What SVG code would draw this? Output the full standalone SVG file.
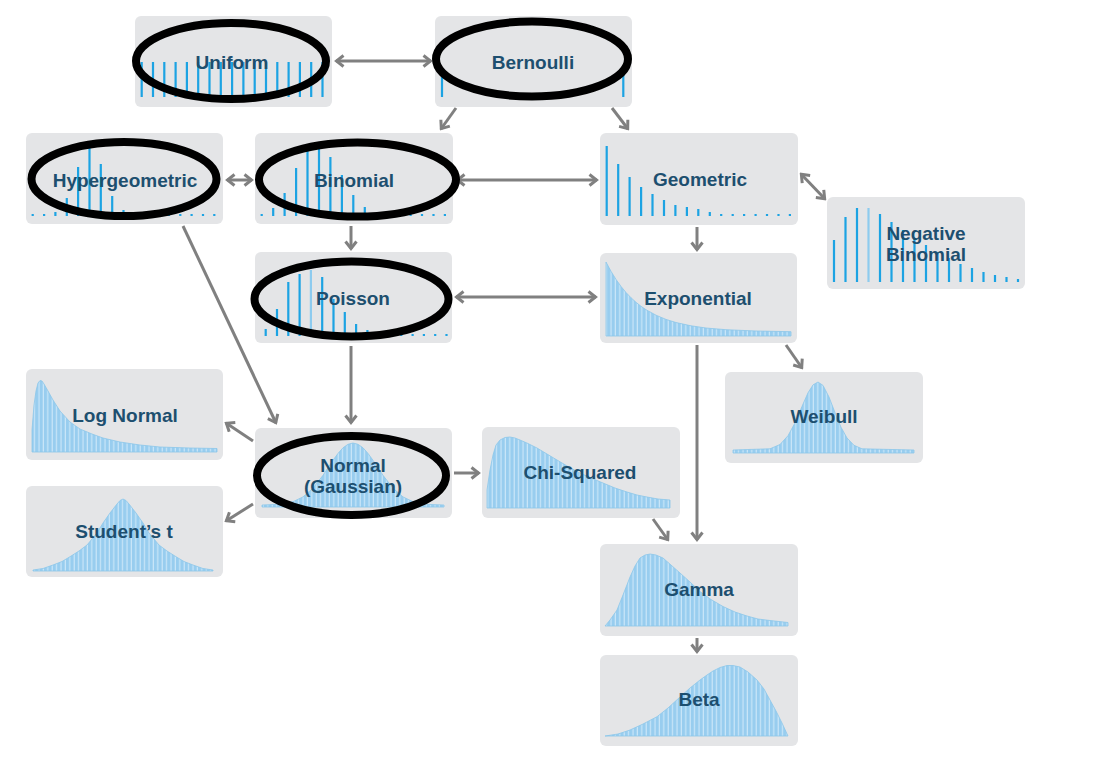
<svg xmlns="http://www.w3.org/2000/svg" width="1095" height="757" viewBox="0 0 1095 757">
<style>
.box{fill:#e4e5e7}
.lbl{font-family:"Liberation Sans",Arial,sans-serif;font-weight:bold;font-size:19px;fill:#1d4f6f;text-anchor:middle}
.bar{stroke:#1ca3e3;stroke-width:2.2;fill:none}
.barl{stroke:#8dcbef;stroke-width:2.2;fill:none}
.cont{fill:url(#st);stroke:#8cc6ea;stroke-width:0.8}
.con{stroke:#808080;stroke-width:3;fill:none;marker-end:url(#ah)}
.dbl{marker-start:url(#ah)}
.ring{fill:none;stroke:#000;stroke-width:8}
</style>
<defs>
<pattern id="st" patternUnits="userSpaceOnUse" width="4.4" height="8"><rect width="4.4" height="8" fill="#98cdef"/><rect x="3.2" width="1.2" height="8" fill="#cae6f8"/></pattern>
<marker id="ah" viewBox="0 0 12 14" markerWidth="12" markerHeight="14" refX="10" refY="7" orient="auto-start-reverse" markerUnits="userSpaceOnUse"><path d="M2.5,1.5 L9.5,7 L2.5,12.5" fill="none" stroke="#808080" stroke-width="3"/></marker>
</defs>
<rect width="1095" height="757" fill="#fff"/>
<g id="connectors">
<path class="con dbl" d="M336,61 L431,61"/>
<path class="con" d="M456,108 L441,129"/>
<path class="con" d="M612,108 L628,129"/>
<path class="con dbl" d="M227,180 L252,180"/>
<path class="con dbl" d="M457,180 L597,180"/>
<path class="con dbl" d="M801,174 L825,199"/>
<path class="con" d="M351,226 L351,249"/>
<path class="con" d="M697,227 L697,250"/>
<path class="con dbl" d="M456,297 L596,297"/>
<path class="con" d="M183,226 L276,423"/>
<path class="con" d="M351,346 L351,423"/>
<path class="con" d="M786,345 L802,368"/>
<path class="con" d="M697,345 L697,540"/>
<path class="con" d="M253,441 L226,423"/>
<path class="con" d="M253,504 L226,521"/>
<path class="con" d="M454,473 L479,473"/>
<path class="con" d="M653,519 L668,540"/>
<path class="con" d="M697,638 L697,652"/>
</g>
<g id="uniform">
<rect class="box" x="135" y="16" width="197" height="91" rx="6"/>
<path class="bar" d="M141.7,97V62M153,97V62M164.3,97V62M175.6,97V62M186.9,97V62M198.2,97V62M209.5,97V62M220.8,97V62M232.1,97V62M243.4,97V62M254.7,97V62M266,97V62M277.3,97V62M288.6,97V62M299.9,97V62M311.2,97V62M322.5,97V62"/>
<text class="lbl" x="232" y="69">Uniform</text>
</g>
<g id="bernoulli">
<rect class="box" x="435" y="16" width="197" height="91" rx="6"/>
<path class="bar" d="M442,97V74M623.3,97V72"/>
<text class="lbl" x="533" y="69">Bernoulli</text>
</g>
<g id="hypergeometric">
<rect class="box" x="26" y="133" width="197" height="91" rx="6"/>
<path class="bar" d="M32.7,216v-2M44.1,216v-2M55.4,216v-4M66.8,216v-18M78.1,216v-49M89.5,216v-68M100.8,216v-52M112.2,216v-20M123.5,216v-6M134.9,216v-2M146.2,216v-2M157.6,216v-2M168.9,216v-2M180.3,216v-2M191.6,216v-2M203,216v-2M214.3,216v-2"/>
<text class="lbl" x="125" y="187">Hypergeometric</text>
</g>
<g id="binomial">
<rect class="box" x="255" y="133" width="198" height="91" rx="6"/>
<path class="bar" d="M261.7,216v-2M273.2,216v-8M284.6,216v-23M296.1,216v-48M307.5,216v-66M319,216v-68M330.4,216v-59M341.9,216v-41M353.3,216v-21M364.8,216v-9M376.2,216v-2M387.7,216v-2M399.1,216v-2M410.6,216v-2M422,216v-2M433.5,216v-2M444.9,216v-2"/>
<text class="lbl" x="354" y="187">Binomial</text>
</g>
<g id="geometric">
<rect class="box" x="600" y="133" width="198" height="92" rx="6"/>
<path class="bar" d="M606.7,216v-70M618.2,216v-52M629.6,216v-39M641.1,216v-29M652.5,216v-22M664,216v-16M675.4,216v-11M686.9,216v-9M698.3,216v-7M709.8,216v-4M721.2,216v-2M732.7,216v-2M744.1,216v-2M755.6,216v-2M767,216v-2M778.5,216v-2M789.9,216v-2"/>
<text class="lbl" x="700" y="186">Geometric</text>
</g>
<g id="negative-binomial">
<rect class="box" x="827" y="197" width="198" height="92" rx="6"/>
<path class="bar" d="M834,282v-42M845.5,282v-65M857,282v-74M880,282v-68M891.5,282v-60M903,282v-52M914.5,282v-44M926,282v-37M937.5,282v-30M949,282v-24M960.5,282v-18M972,282v-14M983.5,282v-10M995,282v-7M1006.5,282v-5M1018,282v-3"/>
<path class="barl" d="M868.5,282v-74"/>
<text class="lbl" x="926" y="240">Negative</text>
<text class="lbl" x="926" y="261">Binomial</text>
</g>
<g id="poisson">
<rect class="box" x="255" y="252" width="197" height="91" rx="6"/>
<path class="bar" d="M265.7,336v-7M277,336v-27M288.3,336v-54M299.6,336v-62M322.2,336v-59M333.5,336v-37M344.8,336v-24M356.1,336v-12M367.4,336v-6M378.7,336v-2M390,336v-2M401.3,336v-2M412.6,336v-2M423.9,336v-2M435.2,336v-2M446.5,336v-2"/>
<path class="barl" d="M310.9,336v-66"/>
<text class="lbl" x="353" y="305">Poisson</text>
</g>
<g id="exponential">
<rect class="box" x="600" y="253" width="197" height="90" rx="6"/>
<polygon class="cont" points="606,336 606,262 611,271.3 616,279.4 621,286.4 626,292.5 631,297.7 636,302.3 641,306.3 646,309.7 656,315.2 666,319.4 676,322.5 691,325.8 706,328 726,329.7 756,331 791,331.7 791,336"/>
<text class="lbl" x="698" y="305">Exponential</text>
</g>
<g id="log-normal">
<rect class="box" x="26" y="369" width="197" height="91" rx="6"/>
<polygon class="cont" points="32,452 32,430 34,405 36,391 38,383 40,380.5 42,381 44,384 48,391 53,400 60,411 70,422 80,429 92,434 103,438 120,442 140,445 160,447 190,448 217,448.5 217,452"/>
<text class="lbl" x="125" y="422">Log Normal</text>
</g>
<g id="weibull">
<rect class="box" x="725" y="372" width="198" height="91" rx="6"/>
<polygon class="cont" points="733,453 733,450 770,448.8 780,444.5 788,435.7 795,422.9 802,406.4 808,392.8 813,384.9 818,382 823,385.4 829,397 835,412.6 841,427.2 847,438 854,445.3 862,448.8 914,450 914,453"/>
<text class="lbl" x="824" y="423">Weibull</text>
</g>
<g id="normal">
<rect class="box" x="255" y="428" width="197" height="90" rx="6"/>
<polygon class="cont" points="262,507 262,505 278,504.4 293,501.7 303,496.9 313,488.2 323,475.3 333,460.3 338,453.4 343,447.8 348,444.3 353,443 358,444.3 363,447.8 368,453.4 373,460.3 383,475.3 393,488.2 403,496.9 413,501.7 428,504.4 444,505 444,507"/>
<text class="lbl" x="353" y="472">Normal</text>
<text class="lbl" x="353" y="493">(Gaussian)</text>
</g>
<g id="chi-squared">
<rect class="box" x="482" y="427" width="198" height="91" rx="6"/>
<polygon class="cont" points="487,508 487,490 490,470 493,455 496,445 500,440 505,437.5 510,437 515,438 520,440 528,443.5 537,448 547,454 557,460 568,466.5 580,473 591,478 603,483 615,488 627,492 637,495 647,497 658,499 670,500 670,508"/>
<text class="lbl" x="580" y="479">Chi-Squared</text>
</g>
<g id="students-t">
<rect class="box" x="26" y="486" width="197" height="91" rx="6"/>
<polygon class="cont" points="33,571 33,570 43,568.5 53,565 62,561.5 70,556.7 79,551 87,545 92,539 97,533 103,523 110,513 117,504 120,500.5 123,499 126,500.5 129,504 136,513 143,523 149,533 154,539 159,545 167,551 176,556.7 184,561.5 193,565 203,568.5 213,570 213,571"/>
<text class="lbl" x="124" y="538">Student’s t</text>
</g>
<g id="gamma">
<rect class="box" x="600" y="544" width="198" height="92" rx="6"/>
<polygon class="cont" points="605,626 610,620 617,610 623,595 630,577 635,566 640,558 645,555 650,554 656,555 663,558 671,565 680,573 690,582 700,591.5 711,599.5 723,606.5 735,612 747,616 758,619 770,620.5 788,622.5 788,626"/>
<text class="lbl" x="699" y="596">Gamma</text>
</g>
<g id="beta">
<rect class="box" x="600" y="655" width="198" height="91" rx="6"/>
<polygon class="cont" points="605,736 618,734 630,730 643,724 657,716.7 668,708 680,697 690,688 700,680 707,675 713,671 720,667.5 727,665.5 733,665.5 740,667 748,672 757,680 764,689 770,700 776,711 782,723 788,736"/>
<text class="lbl" x="699" y="706">Beta</text>
</g>
<g id="highlights">
<ellipse class="ring" cx="231" cy="61" rx="95" ry="38"/>
<ellipse class="ring" cx="532" cy="59" rx="96" ry="37.5"/>
<ellipse class="ring" cx="124" cy="179" rx="92.5" ry="37"/>
<ellipse class="ring" cx="357.5" cy="179.5" rx="98.5" ry="37"/>
<ellipse class="ring" cx="351.5" cy="299" rx="97" ry="37.5"/>
<ellipse class="ring" cx="351.5" cy="475.5" rx="94.5" ry="39.5"/>
</g>
</svg>
